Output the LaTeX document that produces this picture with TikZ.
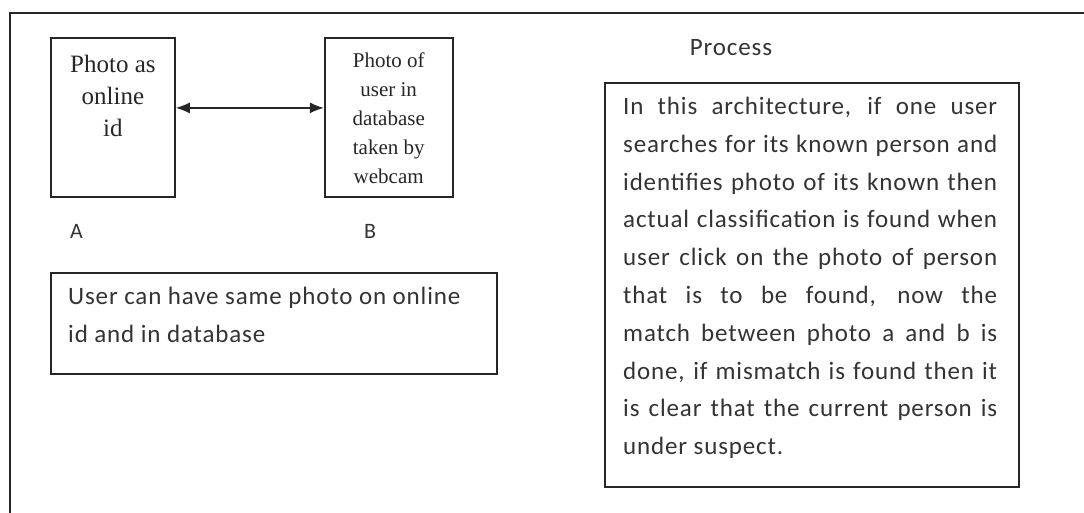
\documentclass[tikz,border=0pt]{standalone}
\usepackage{fontspec}
\setmainfont{Carlito}[LetterSpace=3.4]
\newfontfamily\photofont{Liberation Serif}
\usetikzlibrary{positioning,arrows.meta}
\newcommand{\PhotoBoxWidth}{124}
\newcommand{\PhotoBoxHeight}{159}

\begin{document}
\begin{tikzpicture}[x=1pt,y=1pt,
	frame/.style={draw=black!85, line width=1.8pt},
	photobox/.style={frame, minimum width=\PhotoBoxWidth pt, minimum height=\PhotoBoxHeight pt, inner sep=0pt},
	phototext/.style={align=center, inner sep=0pt, text=black!85},
	sidetext/.style={inner sep=0pt, text=black!80, font=\fontsize{25}{37.8}\selectfont},
	]
	\useasboundingbox (0,0) rectangle (1084,-512);
	\clip (0,0) rectangle (1084,-512);
	\draw[frame] (1100,-13) -- (10,-13) -- (10,-530);

	\node[photobox, anchor=north west] (boxA) at (50,-37) {};
	\node[photobox, right=148pt of boxA, minimum width=128pt] (boxB) {};
	\node[phototext, below=18pt of boxA.north, font=\photofont\fontsize{25}{32}\selectfont] (textA) {Photo as\\online\\id};
	\node[phototext, below=15.5pt of boxB.north, font=\photofont\fontsize{21}{29}\selectfont] (textB) {Photo of\\user in\\database\\taken by\\webcam};
	\draw[line width=1.3pt, black!85, {Latex[length=14pt,width=11pt]}-{Latex[length=14pt,width=11pt]}]
		([yshift=9.5pt]boxA.east) -- ([yshift=9.5pt]boxB.west);
	\node[sidetext, font=\fontsize{22}{26}\selectfont, below right=26pt and 20pt of boxA.south west] (labelA) {A};
	\node[sidetext, font=\fontsize{22}{26}\selectfont, below right=26pt and 40pt of boxB.south west] (labelB) {B};

	\node[frame, anchor=north west, minimum width=446pt, minimum height=101pt, inner sep=0pt] (note) at (50,-272) {};
	\node[sidetext, align=left, anchor=north west, below right=15pt and 18pt of note.north west] (notetext)
		{User can have same photo on online\\id and in database};

	\node[sidetext, anchor=base] (process) at (731,-55) {Process};
	\node[frame, anchor=north west, minimum width=414pt, minimum height=404pt, inner sep=0pt] (procbox) at (604,-82) {};
	\node[sidetext, text width=374pt, align=justify, below right=15pt and 19pt of procbox.north west] (proctext)
		{In this architecture, if one user\linebreak
		searches for its known person and\linebreak
		identifies photo of its known then\linebreak
		actual classification is found when\linebreak
		user click on the photo of person\linebreak
		that is to be found, now the\linebreak
		match between photo a and b is\linebreak
		done, if mismatch is found then it\linebreak
		is clear that the current person is\linebreak
		under suspect.};
\end{tikzpicture}
\end{document}
